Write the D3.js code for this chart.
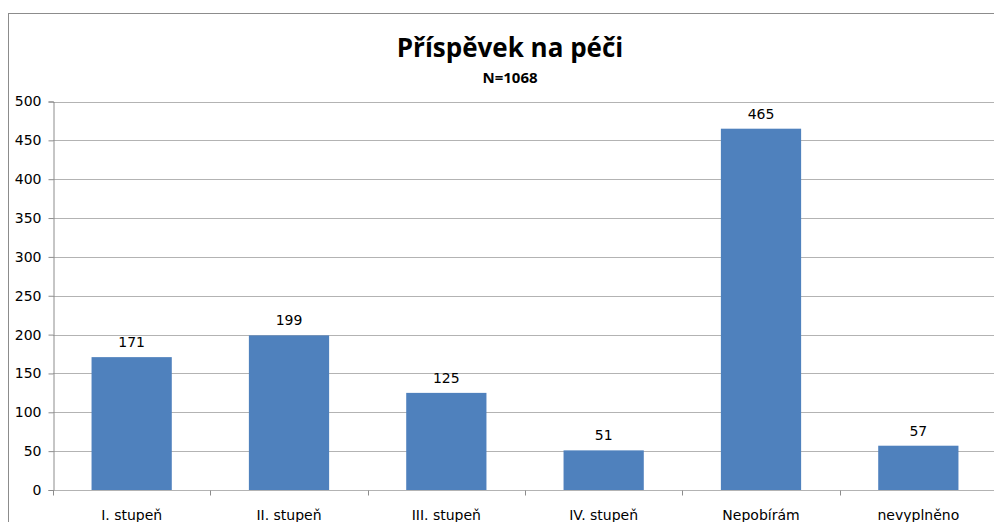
<!DOCTYPE html>
<html>
<head>
<meta charset="utf-8">
<script src="https://cdn.jsdelivr.net/npm/d3@7"></script>
<style>
  body { margin: 0; background: #fff; overflow: hidden; }
</style>
</head>
<body>
<div id="chart"></div>
<script>
// Data
const categories = ['I. stupeň', 'II. stupeň', 'III. stupeň', 'IV. stupeň', 'Nepobírám', 'nevyplněno']
const values = [171, 199, 125, 51, 465, 57]
const yTicks = [0, 50, 100, 150, 200, 250, 300, 350, 400, 450, 500]
const title = 'Příspěvek na péči'
const subtitle = 'N=1068'

const width = 994, height = 522
const plot = { left: 53, top: 101.5, right: 997, bottom: 490 }
const labelFont = 'DejaVu Sans, Verdana, sans-serif'

const svg = d3.select('#chart').append('svg')
  .attr('width', width)
  .attr('height', height)

// chart frame
svg.append('rect')
  .attr('x', 8.5).attr('y', 13.5)
  .attr('width', 1020).attr('height', 540)
  .attr('fill', 'none')
  .attr('stroke', '#8c8c8c')

// Scales
const x = d3.scaleBand()
  .domain(categories)
  .range([plot.left, plot.right])
  .paddingInner(0.49)
  .paddingOuter(0.245)

const y = d3.scaleLinear()
  .domain([0, 500])
  .range([plot.bottom, plot.top])

// gridlines
svg.append('g')
  .selectAll('line')
  .data(yTicks)
  .join('line')
  .attr('x1', plot.left).attr('x2', width)
  .attr('y1', d => Math.round(y(d)) + 0.5)
  .attr('y2', d => Math.round(y(d)) + 0.5)
  .attr('stroke', '#b3b3b3')

// y axis
const yAxis = svg.append('g')
  .attr('transform', `translate(${plot.left + 0.5},0)`)
  .call(d3.axisLeft(y).tickValues(yTicks).tickSize(5).tickPadding(7))
yAxis.select('.domain').attr('stroke', '#8c8c8c')
yAxis.selectAll('.tick line').attr('stroke', '#8c8c8c')
yAxis.selectAll('.tick text')
  .attr('font-family', labelFont)
  .attr('font-size', 14)
  .attr('fill', '#000')

// x axis (ticks between categories)
const xTickPos = d3.range(categories.length + 1).map(i => plot.left + i * x.step())
svg.append('g')
  .selectAll('line')
  .data(xTickPos)
  .join('line')
  .attr('x1', d => Math.round(d) + 0.5).attr('x2', d => Math.round(d) + 0.5)
  .attr('y1', Math.round(y(0)) + 0.5).attr('y2', Math.round(y(0)) + 5.5)
  .attr('stroke', '#8c8c8c')

svg.append('g')
  .selectAll('text')
  .data(categories)
  .join('text')
  .attr('x', d => x(d) + x.bandwidth() / 2)
  .attr('y', 520)
  .attr('text-anchor', 'middle')
  .attr('font-family', labelFont)
  .attr('font-size', 14)
  .text(d => d)

// bars
svg.append('g')
  .selectAll('rect')
  .data(values)
  .join('rect')
  .attr('x', (d, i) => x(categories[i]))
  .attr('y', d => y(d))
  .attr('width', x.bandwidth())
  .attr('height', d => y(0) - y(d))
  .attr('fill', '#4f81bd')

// value labels
svg.append('g')
  .selectAll('text')
  .data(values)
  .join('text')
  .attr('x', (d, i) => x(categories[i]) + x.bandwidth() / 2)
  .attr('y', d => y(d) - 10)
  .attr('text-anchor', 'middle')
  .attr('font-family', labelFont)
  .attr('font-size', 14)
  .text(d => d)

// titles
svg.append('text')
  .attr('x', 510).attr('y', 57)
  .attr('text-anchor', 'middle')
  .attr('font-family', 'Open Sans, Noto Sans, sans-serif')
  .attr('font-weight', 'bold')
  .attr('font-size', 26)
  .text(title)

svg.append('text')
  .attr('x', 510).attr('y', 83)
  .attr('text-anchor', 'middle')
  .attr('font-family', 'Open Sans, Noto Sans, sans-serif')
  .attr('font-weight', 'bold')
  .attr('font-size', 15)
  .text(subtitle)
</script>
</body>
</html>
